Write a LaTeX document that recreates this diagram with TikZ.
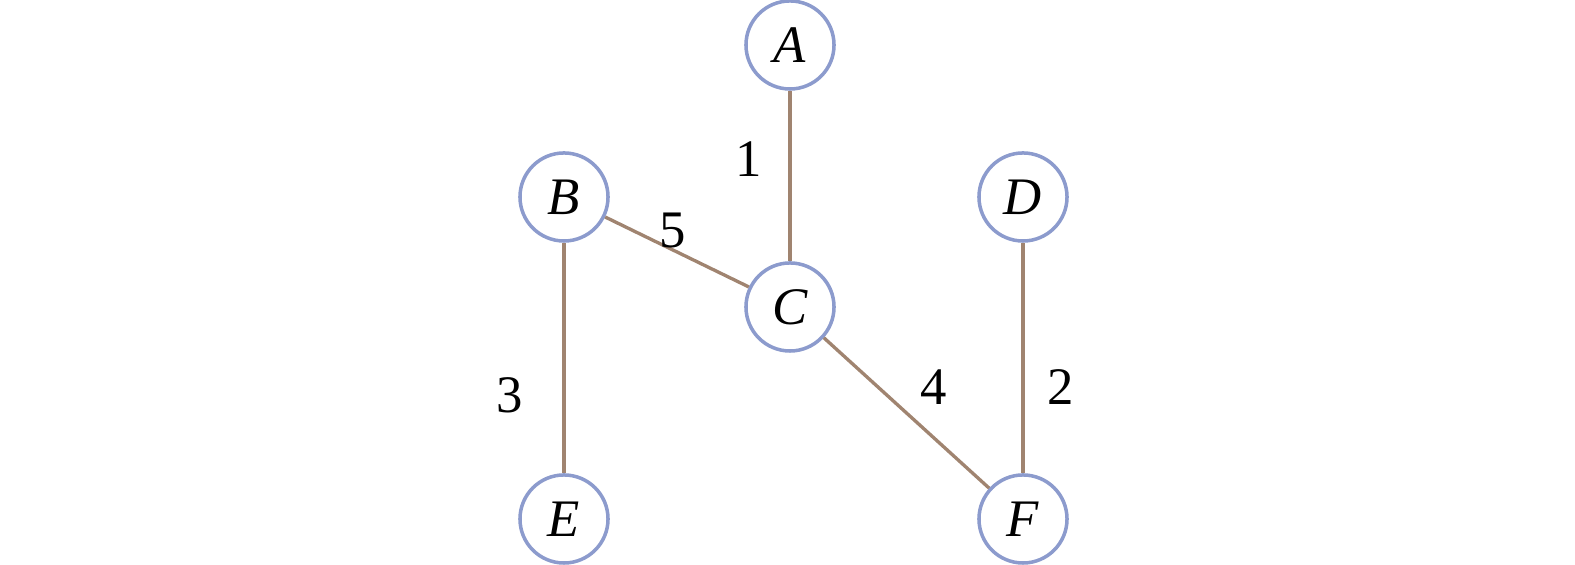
\documentclass[tikz,border=0pt]{standalone}
\usepackage{fontspec}
\setmainfont{Liberation Serif}
\usetikzlibrary{positioning}
\definecolor{ringblue}{RGB}{140,155,205}
\definecolor{edgebrown}{RGB}{160,132,112}

\begin{document}
\begin{tikzpicture}[x=0.01cm, y=0.01cm]

\tikzstyle{vertex}=[circle, draw=ringblue, line width=1pt, minimum size=0.88cm, inner sep=0pt, font=\fontsize{15}{18}\selectfont\itshape]
\tikzstyle{edge}=[draw=edgebrown, line width=0.95pt]
\tikzstyle{weight}=[font=\fontsize{15}{18}\selectfont]

\useasboundingbox (0,0) rectangle (1575,565);

\node [vertex] (a) at (790,520) {A};
\node [vertex] (b) at (564,368) {B};
\node [vertex] (d) at (1023,368) {D};
\node [vertex] (c) at (790,258) {C};
\node [vertex] (e) at (564,46) {E};
\node [vertex] (f) at (1023,46) {F};

\draw [edge] (a) -- (c);
\draw [edge] (b) -- (c);
\draw [edge] (b) -- (e);
\draw [edge] (c) -- (f);
\draw [edge] (d) -- (f);

\node [weight] (w1) at (749,406) {1};
\node [weight] (w5) at (673,334) {5};
\node [weight] (w3) at (510,170) {3};
\node [weight] (w4) at (934,178) {4};
\node [weight] (w2) at (1061,178) {2};

\end{tikzpicture}
\end{document}
